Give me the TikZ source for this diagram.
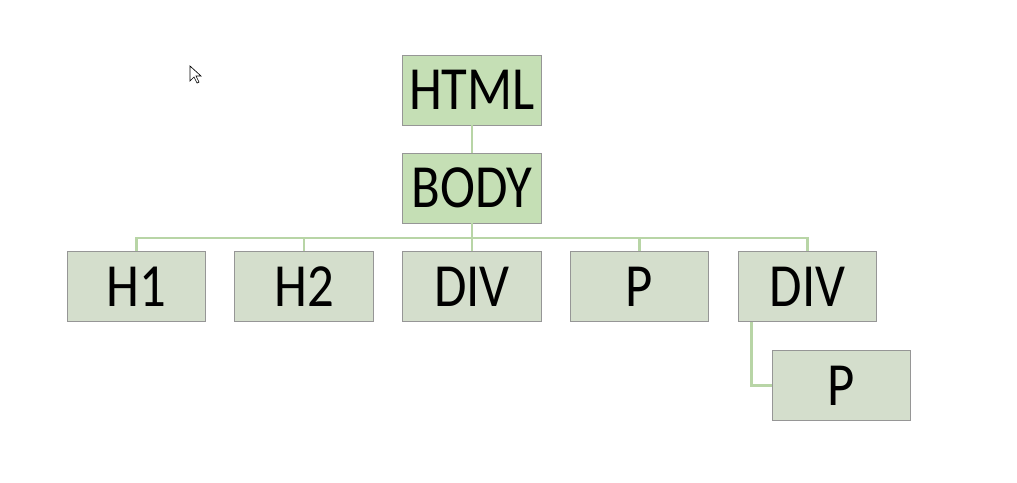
\documentclass[tikz,border=0pt]{standalone}
\usepackage{fontspec}
\setmainfont{Carlito}
\newfontfamily\tagfont[FakeStretch=0.86]{Carlito}
\usepackage{tikz}
\definecolor{topfill}{RGB}{197,223,181}
\definecolor{rowfill}{RGB}{212,222,204}
\definecolor{edgegray}{RGB}{150,150,150}
\definecolor{linkgreen}{RGB}{184,213,166}
\tikzset{
  tag/.style={draw=edgegray,line width=0.6pt,fill=rowfill,minimum width=104pt,minimum height=52.5pt,
    inner sep=0pt,font=\tagfont\fontsize{46}{46}\selectfont},
  toptag/.style={tag,fill=topfill},
  link/.style={draw=linkgreen,line width=2pt}
}
\begin{document}
\begin{tikzpicture}[x=0.75pt,y=-0.75pt]
    \useasboundingbox[fill=white] (0,0) rectangle (1017,482);
    \node[toptag] (html) at (472,90) {HTML};
    \node[toptag] (body) at (472,188) {BODY};
    \foreach \N/\X/\T in {h1/136.5/H1,h2/304/H2,div1/472/DIV,p1/639.5/P,div2/807.5/DIV}
    {\node[tag] (\N) at (\X,286.5) {\T};}
    \node[tag] (p2) at (841.5,385.5) {P};
    \coordinate (bus) at (472,238);
    % links
    \draw[link] (html) -- (body);
    \foreach \N in {h1,h2,div1,p1,div2}
    {\draw[link] (body.south) -- (bus) -| (\N.north);}
    \draw[link] ([xshift=10.5pt]div2.south west) |- (p2.west);
    % mouse pointer
    \draw[line width=0.5pt,fill=white] (190,66) -- (190,81) -- (194,77) -- (197,83) -- (199,82) -- (196,76) -- (201,76) -- cycle;
\end{tikzpicture}
\end{document}
